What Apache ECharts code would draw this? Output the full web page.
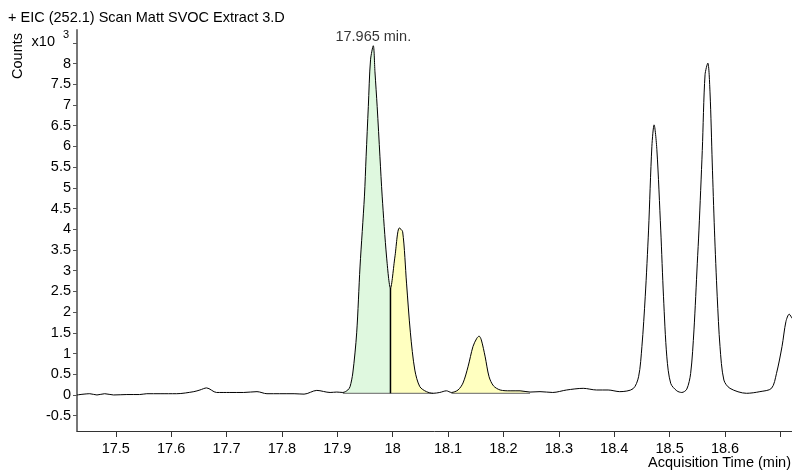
<!DOCTYPE html>
<html>
<head>
<meta charset="utf-8">
<script src="https://cdn.jsdelivr.net/npm/echarts@6/dist/echarts.min.js"></script>
<style>html,body{margin:0;padding:0;background:#fff}#c{width:792px;height:473px}</style>
</head>
<body>
<div id="c"></div>
<script>
// Acquisition time (min)
const times = [
  17.430, 17.453, 17.466, 17.480, 17.496, 17.520, 17.543, 17.556, 17.580, 17.610,
  17.641, 17.652, 17.664, 17.682, 17.706, 17.731, 17.755, 17.773, 17.796, 17.822,
  17.840, 17.863, 17.887, 17.899, 17.910, 17.919, 17.923, 17.928, 17.935, 17.941,
  17.949, 17.952, 17.956, 17.960, 17.965, 17.968, 17.972, 17.977, 17.981, 17.989,
  17.996, 18.004, 18.012, 18.018, 18.025, 18.032, 18.040, 18.049, 18.061, 18.073,
  18.085, 18.097, 18.106, 18.118, 18.127, 18.136, 18.145, 18.152, 18.156, 18.160,
  18.167, 18.174, 18.182, 18.194, 18.212, 18.230, 18.248, 18.266, 18.289, 18.314,
  18.344, 18.368, 18.389, 18.410, 18.434, 18.444, 18.450, 18.456, 18.462, 18.468,
  18.472, 18.477, 18.484, 18.489, 18.495, 18.502, 18.513, 18.522, 18.531, 18.538,
  18.544, 18.550, 18.553, 18.559, 18.564, 18.569, 18.573, 18.577, 18.581, 18.586,
  18.591, 18.598, 18.609, 18.639, 18.663, 18.684, 18.693, 18.703, 18.710, 18.716,
  18.721
];
// Counts (x10^3)
const counts = [
  0.00, 0.03, 0.00, 0.03, 0.00, 0.01, 0.01, 0.03, 0.03, 0.03,
  0.08, 0.12, 0.17, 0.06, 0.06, 0.06, 0.08, 0.03, 0.03, 0.03,
  0.02, 0.11, 0.06, 0.07, 0.06, 0.12, 0.20, 0.53, 1.50, 3.09,
  4.80, 5.75, 6.96, 8.09, 8.43, 7.80, 6.96, 5.75, 4.80, 3.33,
  2.58, 3.33, 4.03, 3.94, 2.70, 1.50, 0.60, 0.20, 0.08, 0.04,
  0.06, 0.10, 0.06, 0.12, 0.29, 0.68, 1.17, 1.37, 1.42, 1.33,
  0.92, 0.44, 0.22, 0.12, 0.10, 0.10, 0.07, 0.08, 0.06, 0.12,
  0.16, 0.12, 0.12, 0.08, 0.15, 0.44, 1.17, 2.37, 3.98, 6.00,
  6.52, 5.92, 3.98, 2.37, 0.92, 0.28, 0.10, 0.06, 0.14, 0.52,
  1.57, 3.18, 3.98, 5.90, 7.73, 8.01, 7.29, 5.60, 3.98, 2.37,
  1.17, 0.36, 0.16, 0.04, 0.08, 0.16, 0.52, 1.17, 1.77, 1.95,
  1.85
];
// Integrated peak regions [start, end] (min)
const greenRegion = [17.910, 17.996];
const yellowRegion1 = [17.996, 18.073];
const yellowRegion2 = [18.106, 18.248];
const integrationBase = 0.04;
const peakTime = 17.965;
const peakLabel = '17.965 min.';
// Tick values
const xTicks = [17.5, 17.6, 17.7, 17.8, 17.9, 18.0, 18.1, 18.2, 18.3, 18.4, 18.5, 18.6, 18.7];
const xLabels = [17.5, 17.6, 17.7, 17.8, 17.9, 18.0, 18.1, 18.2, 18.3, 18.4, 18.5, 18.6];
const yTicks = [-0.5, 0, 0.5, 1, 1.5, 2, 2.5, 3, 3.5, 4, 4.5, 5, 5.5, 6, 6.5, 7, 7.5, 8, 8.5];
const yLabels = [-0.5, 0, 0.5, 1, 1.5, 2, 2.5, 3, 3.5, 4, 4.5, 5, 5.5, 6, 6.5, 7, 7.5, 8];

const title = '+ EIC (252.1) Scan Matt SVOC Extract 3.D';
const xName = 'Acquisition Time (min)';
const yName = 'Counts';

const data = times.map((t, i) => [t, counts[i]]);
const slice = (r) => data.filter(d => d[0] >= r[0] - 1e-9 && d[0] <= r[1] + 1e-9);
const FONT = 'Liberation Sans, Arial, Helvetica, sans-serif';
const FS = 14.5;
const SM = 0.3;

const areaSeries = (r, color) => ({
  type: 'line', data: slice(r), smooth: SM, symbol: 'none', silent: true,
  lineStyle: { width: 0, opacity: 0 },
  areaStyle: { color: color, opacity: 1, origin: integrationBase },
  z: 1
});

const peakIdx = times.indexOf(peakTime);
const dividerIdx = times.indexOf(greenRegion[1]);

const chart = echarts.init(document.getElementById('c'), null, { renderer: 'canvas' });
chart.setOption({
  animation: false,
  backgroundColor: '#fff',
  grid: { left: 77, right: 0, top: 30, bottom: 42, containLabel: false },
  xAxis: {
    type: 'value', min: 17.43, max: 18.721,
    axisLine: { onZero: false, lineStyle: { color: '#333', width: 1 } },
    axisTick: { show: true, length: 6, lineStyle: { color: '#333' }, customValues: xTicks },
    axisLabel: { customValues: xLabels, color: '#000', fontSize: FS, fontFamily: FONT, margin: 10 },
    splitLine: { show: false }
  },
  yAxis: {
    type: 'value', min: -0.87, max: 8.81,
    axisLine: { show: true, lineStyle: { color: '#777', width: 2 } },
    axisTick: { show: true, length: 4, lineStyle: { color: '#555' }, customValues: yTicks },
    axisLabel: { customValues: yLabels, color: '#000', fontSize: FS, fontFamily: FONT, margin: 6 },
    splitLine: { show: false }
  },
  series: [
    areaSeries(greenRegion, '#dff8df'),
    areaSeries(yellowRegion1, '#ffffc0'),
    areaSeries(yellowRegion2, '#ffffc0'),
    {
      type: 'line', data: [[greenRegion[0], integrationBase], [yellowRegion1[1], integrationBase]],
      symbol: 'none', lineStyle: { color: '#666', width: 1 }, z: 2, silent: true
    },
    {
      type: 'line', data: [[yellowRegion2[0], integrationBase], [yellowRegion2[1], integrationBase]],
      symbol: 'none', lineStyle: { color: '#666', width: 1 }, z: 2, silent: true
    },
    {
      type: 'line', data: data, smooth: SM, symbol: 'none',
      lineStyle: { color: '#000', width: 1 }, z: 3, silent: true
    },
    {
      type: 'line', data: [[times[dividerIdx], integrationBase], [times[dividerIdx], counts[dividerIdx]]],
      symbol: 'none', lineStyle: { color: '#000', width: 1.5 }, z: 4, silent: true
    },
    {
      type: 'scatter', data: [[times[peakIdx], counts[peakIdx]]], symbolSize: 0, z: 5, silent: true,
      label: { show: true, position: 'top', distance: 1, formatter: peakLabel,
               color: '#000', fontSize: FS, fontFamily: FONT }
    }
  ],
  graphic: [
    { type: 'text', x: 8, y: 18, style: { text: title, font: FS + 'px ' + FONT, fill: '#000', verticalAlign: 'middle', textAlign: 'left' } },
    { type: 'text', x: 18, y: 56, rotation: Math.PI / 2, style: { text: yName, font: FS + 'px ' + FONT, fill: '#000', verticalAlign: 'middle', textAlign: 'center' } },
    { type: 'text', x: 55, y: 42, style: { text: 'x10', font: FS + 'px ' + FONT, fill: '#000', verticalAlign: 'middle', textAlign: 'right' } },
    { type: 'text', x: 63, y: 35, style: { text: '3', font: '11px ' + FONT, fill: '#000', verticalAlign: 'middle', textAlign: 'left' } },
    { type: 'text', x: 791, y: 463, style: { text: xName, font: FS + 'px ' + FONT, fill: '#000', verticalAlign: 'middle', textAlign: 'right' } }
  ]
});
</script>
</body>
</html>
